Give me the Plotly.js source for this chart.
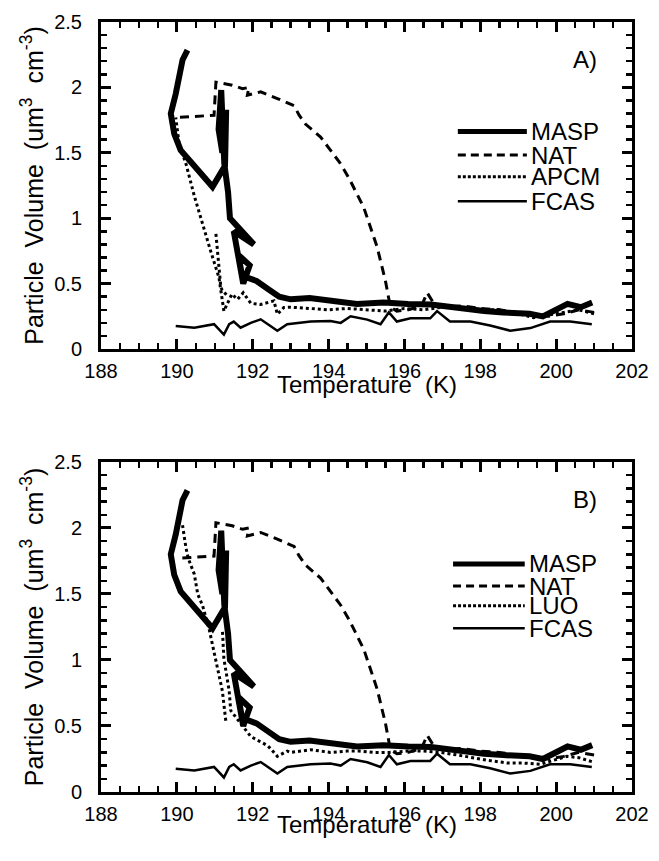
<!DOCTYPE html>
<html>
<head>
<meta charset="utf-8">
<script src="https://cdn.plot.ly/plotly-3.0.1.min.js"></script>
<style>html,body{margin:0;padding:0;background:#fff;}</style>
</head>
<body>
<div id="chart" style="width:659px;height:861px;"></div>
<script>
// ---- data (temperature K, particle volume um^3 cm^-3) ----
const maspT = [200.95,200.65,200.3,199.95,199.65,199.3,199.0,198.6,198.1,197.4,196.7,196.1,195.45,194.75,194.05,193.5,193.0,192.7,192.45,192.1,191.72,191.62,191.92,191.75,191.5,192.03,191.4,191.35,191.25,191.17,191.1,191.2,191.3,191.27,190.94,190.1,189.93,189.84,189.97,190.15,190.28];
const maspV = [0.355,0.32,0.345,0.29,0.25,0.27,0.27,0.28,0.29,0.32,0.34,0.345,0.355,0.345,0.37,0.39,0.38,0.40,0.45,0.52,0.56,0.72,0.64,0.50,0.90,0.80,1.00,1.20,1.42,1.98,1.68,1.50,1.83,1.40,1.24,1.52,1.646,1.80,1.95,2.21,2.285];

const natT = [201.0,200.6,200.2,199.8,199.4,199.0,198.5,198.0,197.5,197.0,196.75,196.6,196.45,196.1,195.8,195.63,195.5,195.28,194.93,194.55,194.32,193.79,193.39,193.22,193.09,192.65,192.21,191.86,191.9,191.73,191.46,191.03,190.98,190.0];
const natV = [0.28,0.30,0.27,0.25,0.26,0.28,0.30,0.31,0.33,0.32,0.36,0.43,0.33,0.30,0.29,0.32,0.52,0.78,1.08,1.30,1.415,1.62,1.72,1.79,1.86,1.915,1.966,1.94,2.00,1.99,2.017,2.04,1.787,1.77];

const apcmT = [201.0,200.6,200.2,199.8,199.4,199.0,198.5,198.0,197.5,197.0,196.5,196.0,195.5,195.0,194.5,194.0,193.5,193.0,192.82,192.65,192.56,192.2,191.95,191.75,191.6,191.45,191.24,191.11,190.89,190.68,190.46,190.24,190.06,189.97,null,191.03,191.12,191.16,191.2,191.35];
const apcmV = [0.27,0.30,0.28,0.26,0.24,0.27,0.30,0.30,0.31,0.32,0.30,0.31,0.29,0.30,0.31,0.30,0.31,0.32,0.317,0.266,0.368,0.34,0.35,0.43,0.38,0.42,0.29,0.547,0.75,0.956,1.17,1.416,1.57,1.77,null,0.88,0.62,0.47,0.45,0.40];

const luoT = [200.94,200.6,200.28,199.9,199.58,199.1,198.7,198.2,197.82,197.4,196.95,196.5,196.07,195.6,195.19,194.8,194.49,194.05,193.53,193.0,192.91,192.65,192.4,192.21,191.95,191.68,191.42,191.38,191.24,191.2,null,191.29,191.2,191.07,190.94,190.85,190.68,190.55,190.46,190.3,190.24,190.15];
const luoV = [0.23,0.26,0.27,0.24,0.21,0.22,0.22,0.24,0.26,0.28,0.30,0.31,0.31,0.30,0.30,0.31,0.31,0.30,0.32,0.30,0.31,0.27,0.35,0.38,0.42,0.52,0.617,0.765,1.01,1.235,null,0.54,0.765,0.94,1.11,1.235,1.41,1.50,1.65,1.77,1.85,2.02];

const fcasT = [200.94,200.37,199.84,199.32,198.79,198.26,197.74,197.2,196.86,196.68,196.16,195.8,195.59,195.37,195.02,194.58,194.32,194.05,193.53,193.26,192.91,192.65,192.21,191.95,191.68,191.5,191.38,191.24,190.98,190.46,189.97];
const fcasV = [0.19,0.21,0.21,0.16,0.14,0.18,0.21,0.21,0.29,0.235,0.235,0.21,0.28,0.19,0.225,0.25,0.20,0.215,0.21,0.20,0.19,0.14,0.227,0.20,0.163,0.21,0.19,0.11,0.19,0.163,0.176];

const xMajor = [188,190,192,194,196,198,200,202];
const yMajor = [0,0.5,1,1.5,2,2.5];
const legendA = ['MASP','NAT','APCM','FCAS'];
const legendB = ['MASP','NAT','LUO','FCAS'];
const panelLabels = ['A)','B)'];
const xTitle = 'Temperature\u00a0 (K)';
const yTitle = 'Particle\u00a0 Volume\u00a0 (um<sup>3</sup>\u00a0 cm<sup>-3</sup>)';

// ---- styles ----
const FONT = 'Liberation Sans, Arial, Helvetica, sans-serif';
const styles = [
  {width:6, dash:'solid'},
  {width:3, dash:'9px,6px'},
  {width:3, dash:'3px,3px'},
  {width:2.5, dash:'solid'}
];
function tr(x, y, s, xa, ya, name){
  return {x:x, y:y, type:'scatter', mode:'lines', name:name, xaxis:xa, yaxis:ya,
    line:{color:'#000', width:s.width, dash:s.dash}, connectgaps:false, hoverinfo:'skip'};
}
const data = [
  tr(fcasT, fcasV, styles[3], 'x', 'y', 'FCAS'),
  tr(apcmT, apcmV, styles[2], 'x', 'y', 'APCM'),
  tr(natT, natV, styles[1], 'x', 'y', 'NAT'),
  tr(maspT, maspV, styles[0], 'x', 'y', 'MASP'),
  tr(fcasT, fcasV, styles[3], 'x2', 'y2', 'FCAS'),
  tr(luoT, luoV, styles[2], 'x2', 'y2', 'LUO'),
  tr(natT, natV, styles[1], 'x2', 'y2', 'NAT'),
  tr(maspT, maspV, styles[0], 'x2', 'y2', 'MASP')
];

const XR = [188,202], YR = [0,2.5];
// native axis ticks, thick enough to show, mirrored onto the top and right frame
function mainX(anchor){
  return {anchor:anchor, domain:[0,1], range:XR, tickmode:'array', tickvals:xMajor, ticktext:xMajor.map(String),
    ticks:'inside', ticklen:10, tickwidth:3, tickcolor:'#000',
    minor:{tickmode:'linear', tick0:188, dtick:0.5, ticks:'inside', ticklen:6, tickwidth:2.5, tickcolor:'#000', showgrid:false},
    showline:true, linewidth:3, linecolor:'#000', mirror:'allticks', showgrid:false, zeroline:false,
    tickfont:{family:FONT, size:20, color:'#000'}, ticklabelstandoff:2};
}
function mainY(anchor, dom){
  return {anchor:anchor, domain:dom, range:YR, tickmode:'array', tickvals:yMajor, ticktext:yMajor.map(String),
    ticks:'inside', ticklen:10, tickwidth:3, tickcolor:'#000',
    minor:{tickmode:'linear', tick0:0, dtick:0.1, ticks:'inside', ticklen:6, tickwidth:2.5, tickcolor:'#000', showgrid:false},
    showline:true, linewidth:3, linecolor:'#000', mirror:'allticks', showgrid:false, zeroline:false,
    tickfont:{family:FONT, size:20, color:'#000'}, ticklabelstandoff:12,
    title:{text:yTitle, font:{family:FONT, size:25, color:'#000'}, standoff:4}};
}

const layout = {
  width:659, height:861, margin:{l:101, r:27, t:22, b:69},
  paper_bgcolor:'#fff', plot_bgcolor:'#fff', showlegend:false,
  font:{family:FONT, color:'#000', size:20},
  xaxis: mainX('y'),
  yaxis: mainY('x', [0.5753, 1]),
  xaxis2: mainX('y2'),
  yaxis2: mainY('x2', [0, 0.4286]),
  shapes: [], annotations: []
};

function legend(names, xref, yref, ys, x0, x1, xt){
  names.forEach((n,i)=>{
    layout.shapes.push({type:'line', xref:xref, yref:yref, x0:x0, x1:x1, y0:ys[i], y1:ys[i],
      line:{color:'#000', width: i===0?5:styles[i].width, dash: i===1 ? '8px,5px' : (i===2 ? '3px,2px' : 'solid')}});
    layout.annotations.push({xref:xref, yref:yref, x:xt, y:ys[i], text:n, showarrow:false, xanchor:'left', yanchor:'middle',
      font:{family:FONT, size:24, color:'#000'}});
  });
}
legend(legendA, 'x domain', 'y domain', [0.665,0.593,0.527,0.452], 0.672, 0.802, 0.806);
legend(legendB, 'x2 domain', 'y2 domain', [0.691,0.624,0.564,0.496], 0.663, 0.798, 0.802);
layout.annotations.push({xref:'x domain', yref:'y domain', x:0.937, y:0.885, text:panelLabels[0], showarrow:false, xanchor:'right', yanchor:'middle', font:{family:FONT, size:24, color:'#000'}});
layout.annotations.push({xref:'x2 domain', yref:'y2 domain', x:0.937, y:0.885, text:panelLabels[1], showarrow:false, xanchor:'right', yanchor:'middle', font:{family:FONT, size:24, color:'#000'}});
// x-axis titles placed tight under the tick labels, as in the reference
layout.annotations.push({xref:'x domain', yref:'y domain', x:0.5, y:-0.108, text:xTitle, showarrow:false, xanchor:'center', yanchor:'middle', font:{family:FONT, size:24, color:'#000'}});
layout.annotations.push({xref:'x2 domain', yref:'y2 domain', x:0.5, y:-0.097, text:xTitle, showarrow:false, xanchor:'center', yanchor:'middle', font:{family:FONT, size:24, color:'#000'}});

Plotly.newPlot('chart', data, layout, {staticPlot:true, displayModeBar:false});
</script>
</body>
</html>
